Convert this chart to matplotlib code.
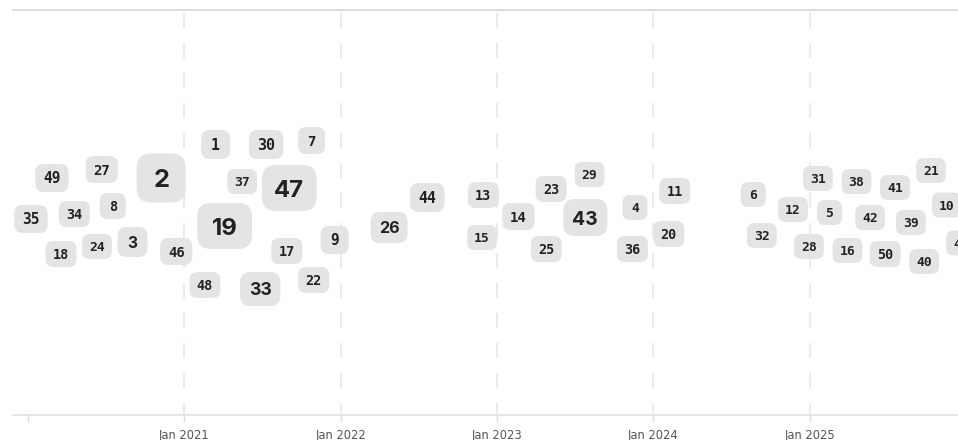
import matplotlib
matplotlib.use('Agg')
import matplotlib.pyplot as plt
import matplotlib.dates as mdates
from matplotlib.patches import FancyBboxPatch
from matplotlib.transforms import IdentityTransform
import datetime as dt

# ---------------- data ----------------
labels = ["49", "27", "2", "35", "34", "8", "18", "24", "3", "46",
          "1", "30", "7", "37", "47", "19", "17", "9", "48", "33", "22",
          "26", "44", "13", "15",
          "14", "23", "29", "43", "25", "4", "36",
          "11", "20", "6", "32", "12", "28",
          "31", "5", "38", "16", "42", "41", "50", "39", "21", "40", "10", "45"]
dates = ["2020-02-27", "2020-06-22", "2020-11-08", "2020-01-09", "2020-04-19",
         "2020-07-18", "2020-03-19", "2020-06-11", "2020-09-02", "2020-12-13",
         "2021-03-15", "2021-07-11", "2021-10-25", "2021-05-16", "2021-09-03",
         "2021-04-05", "2021-08-28", "2021-12-18", "2021-02-18", "2021-06-27",
         "2021-10-30",
         "2022-04-24", "2022-07-22", "2022-11-30", "2022-11-27",
         "2023-02-20", "2023-05-07", "2023-08-05", "2023-07-26", "2023-04-26",
         "2023-11-19", "2023-11-13",
         "2024-02-20", "2024-02-06", "2024-08-21", "2024-09-10", "2024-11-22",
         "2024-12-29",
         "2025-01-19", "2025-02-15", "2025-04-19", "2025-03-29", "2025-05-21",
         "2025-07-18", "2025-06-25", "2025-08-24", "2025-10-10", "2025-09-24",
         "2025-11-16", "2025-12-19"]
lane = [37, 45.5, 37, -4, 1, 9, -39, -31.5, -27, -36.5,
        70.5, 70.5, 74.5, 33.5, 27, -11, -36, -25, -70, -74, -65,
        -12.5, 17.5, 20, -22.5,
        -1.5, 26, 40.5, -2.5, -34, 7.5, -34,
        24, -19, 20.5, -20.5, 5.5, -31.5,
        36.5, 2.5, 33.5, -35.5, -2.5, 27.5, -39, -7.5, 44.5, -46.5, 10, -28]
weight = [4, 3, 25, 4, 2, 2, 2, 1, 6, 3,
          5, 5, 3, 1, 22, 22, 2, 4, 2, 10, 2,
          7, 5, 2, 1,
          3, 2, 1, 13, 2, 1, 2,
          2, 2, 1, 1, 1, 1,
          1, 1, 1, 1, 1, 1, 2, 1, 1, 1, 1, 1]
tick_years = [2020, 2021, 2022, 2023, 2024, 2025]
tick_labels = ["", "Jan 2021", "Jan 2022", "Jan 2023", "Jan 2024", "Jan 2025"]
grid_years = [2021, 2022, 2023, 2024, 2025]

# ---------------- figure ----------------
plt.rcParams['lines.scale_dashes'] = False
W, H = 958, 440
fig = plt.figure(figsize=(W / 100, H / 100), dpi=100)
ax = fig.add_axes([13 / W, 25 / H, (W - 13) / W, 405 / H])
ax.set_xlim(mdates.date2num(dt.date(2019, 11, 28)), mdates.date2num(dt.date(2025, 12, 12)))
ax.set_ylim(-200, 205)
ax.set_autoscale_on(False)

for s in ["left", "right"]:
    ax.spines[s].set_visible(False)
ax.spines["top"].set_color("#d2d2d2")
ax.spines["top"].set_linewidth(1.1)
ax.spines["bottom"].set_color("#dedede")
ax.spines["bottom"].set_linewidth(1.1)

ax.set_yticks([])
ax.set_xticks([mdates.date2num(dt.date(y, 1, 1)) for y in tick_years])
ax.set_xticklabels(tick_labels)
ax.tick_params(axis="x", length=5, width=1, color="#dddddd", labelsize=8.3,
               labelcolor="#555555", pad=5)

for y in grid_years:
    d = mdates.date2num(dt.date(y, 1, 1))
    ax.plot([d, d], [202, -199], color="#ebebeb", lw=1.5, dashes=(10.8, 10.8),
            zorder=1, solid_capstyle="butt", dash_capstyle="butt")

ident = IdentityTransform()
for lab, ds, ln, wt in zip(labels, dates, lane, weight):
    x = mdates.date2num(dt.date.fromisoformat(ds))
    cx, cy = ax.transData.transform((x, ln))
    h = 24 + wt
    w = h if len(lab) == 1 else 1.19 * h
    p = FancyBboxPatch((cx - w / 2, cy - h / 2), w, h,
                       boxstyle=f"round,pad=0,rounding_size={0.3 * h}",
                       transform=ident, fc="#e4e4e6", ec="none", zorder=3)
    ax.add_patch(p)
    fpx = 0.52 * h
    fam = "DejaVu Sans Mono" if h < 30 else "Inter"
    ax.text(cx, cy - 0.73 * fpx / 2, lab, transform=ident, ha="center", va="baseline",
            fontsize=fpx * 0.72, fontfamily=fam, fontweight="bold", color="#222222",
            zorder=4, clip_on=True)

fig.savefig("out.png", dpi=100)
